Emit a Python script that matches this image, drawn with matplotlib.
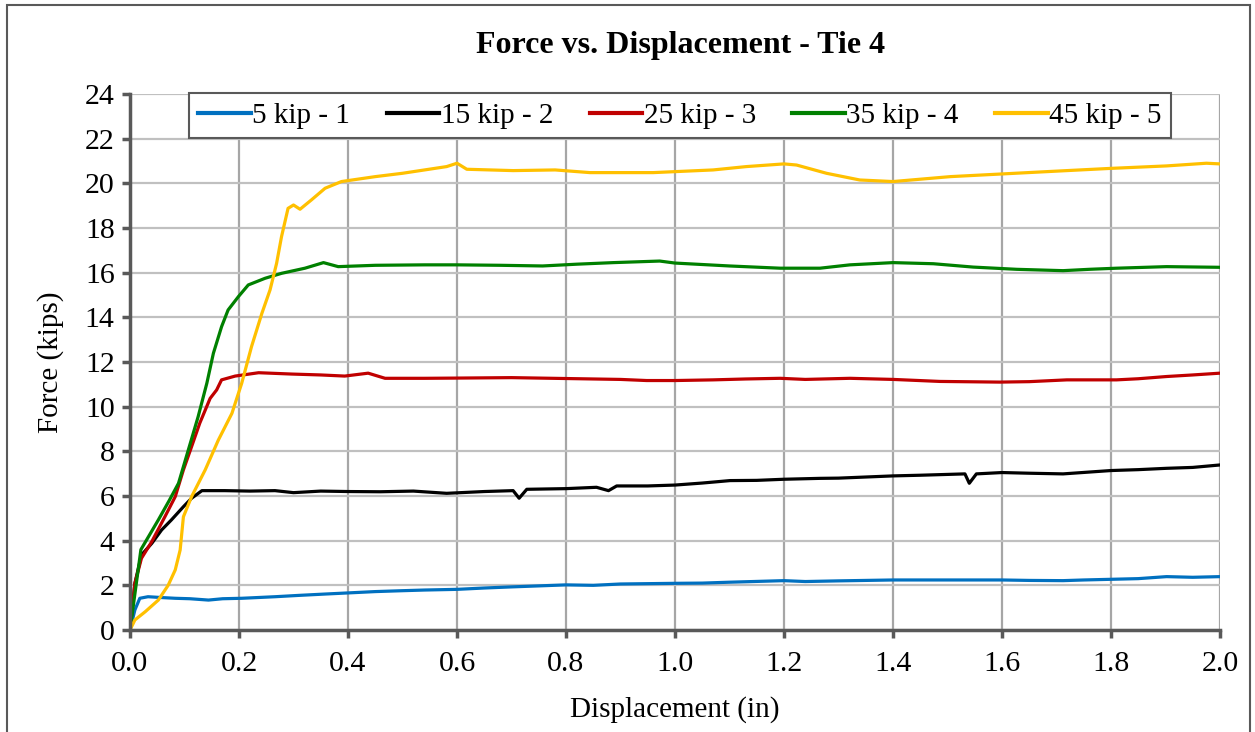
import matplotlib
matplotlib.use("Agg")
import matplotlib.pyplot as plt
from matplotlib.patches import Rectangle

plt.rcParams['font.family'] = ['Liberation Serif', 'DejaVu Serif']

d_blue = [0.0, 0.009, 0.018, 0.033, 0.06, 0.083, 0.11, 0.144, 0.17, 0.205, 0.24, 0.266, 0.31, 0.358, 0.40, 0.45,
          0.50, 0.541, 0.6, 0.65, 0.7, 0.8, 0.85, 0.9, 1.0, 1.05, 1.1, 1.2, 1.239, 1.3, 1.4, 1.5, 1.6,
          1.65, 1.712, 1.75, 1.8, 1.85, 1.902, 1.95, 2.0]
f_blue = [0.0, 0.9, 1.42, 1.49, 1.45, 1.42, 1.40, 1.34, 1.40, 1.42, 1.46, 1.49, 1.55, 1.61, 1.66, 1.72,
          1.76, 1.79, 1.82, 1.88, 1.93, 2.02, 2.00, 2.06, 2.09, 2.10, 2.14, 2.21, 2.17, 2.20, 2.24, 2.24, 2.24,
          2.22, 2.21, 2.24, 2.27, 2.30, 2.39, 2.36, 2.39]

d_black = [0.0, 0.009, 0.021, 0.04, 0.058, 0.076, 0.098, 0.113, 0.132, 0.174, 0.22, 0.266, 0.30, 0.35, 0.40,
           0.459, 0.52, 0.581, 0.65, 0.703, 0.714, 0.728, 0.80, 0.856, 0.878, 0.893, 0.95, 1.0, 1.05, 1.101,
           1.15, 1.2, 1.266, 1.3, 1.4, 1.45, 1.532, 1.540, 1.553, 1.6, 1.65, 1.712, 1.8, 1.85, 1.902, 1.95, 2.0]
f_black = [0.0, 2.09, 3.36, 3.88, 4.48, 4.93, 5.52, 5.90, 6.24, 6.24, 6.22, 6.24, 6.15, 6.22, 6.20,
           6.19, 6.22, 6.12, 6.20, 6.24, 5.90, 6.30, 6.33, 6.39, 6.24, 6.45, 6.45, 6.49, 6.58, 6.69,
           6.70, 6.75, 6.79, 6.80, 6.90, 6.93, 6.99, 6.57, 6.99, 7.05, 7.02, 6.99, 7.14, 7.18, 7.24, 7.28, 7.39]

d_red = [0.0, 0.009, 0.021, 0.04, 0.064, 0.083, 0.098, 0.113, 0.128, 0.147, 0.159, 0.168, 0.193, 0.236,
         0.297, 0.35, 0.394, 0.437, 0.468, 0.541, 0.6, 0.7, 0.8, 0.9, 0.948, 1.0, 1.07, 1.13, 1.193, 1.239,
         1.321, 1.4, 1.486, 1.596, 1.65, 1.719, 1.81, 1.85, 1.902, 1.95, 2.0]
f_red = [0.0, 2.09, 3.21, 3.96, 5.07, 5.97, 7.17, 8.21, 9.26, 10.37, 10.75, 11.20, 11.37, 11.52,
         11.46, 11.42, 11.37, 11.50, 11.27, 11.27, 11.28, 11.30, 11.26, 11.22, 11.17, 11.17, 11.20, 11.24, 11.27, 11.22,
         11.27, 11.22, 11.13, 11.10, 11.12, 11.20, 11.20, 11.25, 11.35, 11.42, 11.50]

d_green = [0.0, 0.02, 0.052, 0.072, 0.089, 0.107, 0.125, 0.141, 0.153, 0.168, 0.180, 0.199, 0.217, 0.248,
           0.278, 0.321, 0.355, 0.382, 0.45, 0.541, 0.6, 0.68, 0.757, 0.82, 0.887, 0.972, 1.0, 1.10, 1.193,
           1.266, 1.321, 1.40, 1.474, 1.547, 1.627, 1.712, 1.76, 1.810, 1.902, 2.0]
f_green = [0.0, 3.6, 4.93, 5.8, 6.57, 8.06, 9.55, 11.05, 12.39, 13.58, 14.33, 14.93, 15.45, 15.75,
           15.97, 16.20, 16.45, 16.27, 16.33, 16.35, 16.35, 16.33, 16.30, 16.38, 16.45, 16.52, 16.43, 16.30, 16.20,
           16.20, 16.35, 16.45, 16.40, 16.25, 16.15, 16.09, 16.15, 16.20, 16.27, 16.24]

d_yellow = [0.0, 0.009, 0.028, 0.052, 0.070, 0.083, 0.092, 0.098, 0.113, 0.138, 0.162, 0.187, 0.205, 0.223,
            0.242, 0.257, 0.269, 0.278, 0.290, 0.300, 0.312, 0.333, 0.358, 0.388, 0.45, 0.50, 0.581, 0.6, 0.618,
            0.703, 0.78, 0.844, 0.96, 1.07, 1.131, 1.2, 1.223, 1.278, 1.339, 1.4, 1.505, 1.6, 1.719,
            1.8, 1.902, 1.975, 2.0]
f_yellow = [0.0, 0.45, 0.82, 1.34, 2.0, 2.69, 3.58, 5.07, 5.97, 7.17, 8.5, 9.7, 11.05, 12.69,
            14.18, 15.23, 16.42, 17.61, 18.88, 19.03, 18.84, 19.26, 19.78, 20.08, 20.30, 20.45, 20.75, 20.9, 20.63,
            20.57, 20.60, 20.48, 20.48, 20.60, 20.75, 20.87, 20.82, 20.45, 20.15, 20.08, 20.30, 20.42, 20.57,
            20.67, 20.78, 20.90, 20.87]

series_labels = ['5 kip - 1', '15 kip - 2', '25 kip - 3', '35 kip - 4', '45 kip - 5']
series_colors = ['#0070C0', '#000000', '#C00000', '#008000', '#FFC000']
xs = [d_blue, d_black, d_red, d_green, d_yellow]
ys = [f_blue, f_black, f_red, f_green, f_yellow]

x_ticks = [0.0, 0.2, 0.4, 0.6, 0.8, 1.0, 1.2, 1.4, 1.6, 1.8, 2.0]
y_ticks = [0, 2, 4, 6, 8, 10, 12, 14, 16, 18, 20, 22, 24]

W, H = 1255, 732
fig = plt.figure(figsize=(W / 100, H / 100), dpi=100)
fig.patch.set_facecolor('white')
ax = fig.add_axes([130 / W, 1 - 630 / H, (1220 - 130) / W, (630 - 94) / H])

for x, y, c, lab in zip(xs, ys, series_colors, series_labels):
    ax.plot(x, y, color=c, lw=2.3, label=lab, solid_joinstyle='round')

ax.set_xlim(0, 2.0)
ax.set_ylim(0, 24)
ax.set_xticks(x_ticks)
ax.set_xticklabels([f'{v:.1f}' for v in x_ticks])
ax.set_yticks(y_ticks)
ax.grid(axis='y', color='#C0C0C0', lw=1.6)
ax.grid(axis='x', color='#A6A6A6', lw=1.6)
ax.set_axisbelow(True)
for s in ['top', 'right']:
    ax.spines[s].set_visible(False)
for s in ['left', 'bottom']:
    ax.spines[s].set_color('#595959')
    ax.spines[s].set_linewidth(2.5)
ax.tick_params(axis='both', direction='out', length=6, width=2.5, color='#595959',
               labelsize=21.5, labelcolor='black', pad=5)
ax.tick_params(axis='x', pad=9)

ax.set_xlabel('Displacement (in)', fontsize=21, labelpad=14)
ax.set_ylabel('Force (kips)', fontsize=21, labelpad=15)
fig.text(681 / W, 1 - 45 / H, 'Force vs. Displacement - Tie 4', ha='center', va='center',
         fontsize=23, fontweight='bold')

leg = ax.legend(loc='upper center', bbox_to_anchor=(680 / W, 1 - 93 / H), bbox_transform=fig.transFigure,
                ncol=5, fontsize=21, frameon=True, fancybox=False, framealpha=1,
                handlelength=1.8, handletextpad=0.05, columnspacing=1.25, borderpad=0.32,
                borderaxespad=0)
leg.get_frame().set_edgecolor('#595959')
leg.get_frame().set_linewidth(1.5)
for line in leg.get_lines():
    line.set_linewidth(3.0)

fig.patches.append(Rectangle((7 / W, -0.01), (1250 - 7) / W, 1.01 - 5 / H, transform=fig.transFigure,
                             fill=False, edgecolor='#595959', lw=1.5))

fig.savefig('out.png', dpi=100, facecolor='white')
